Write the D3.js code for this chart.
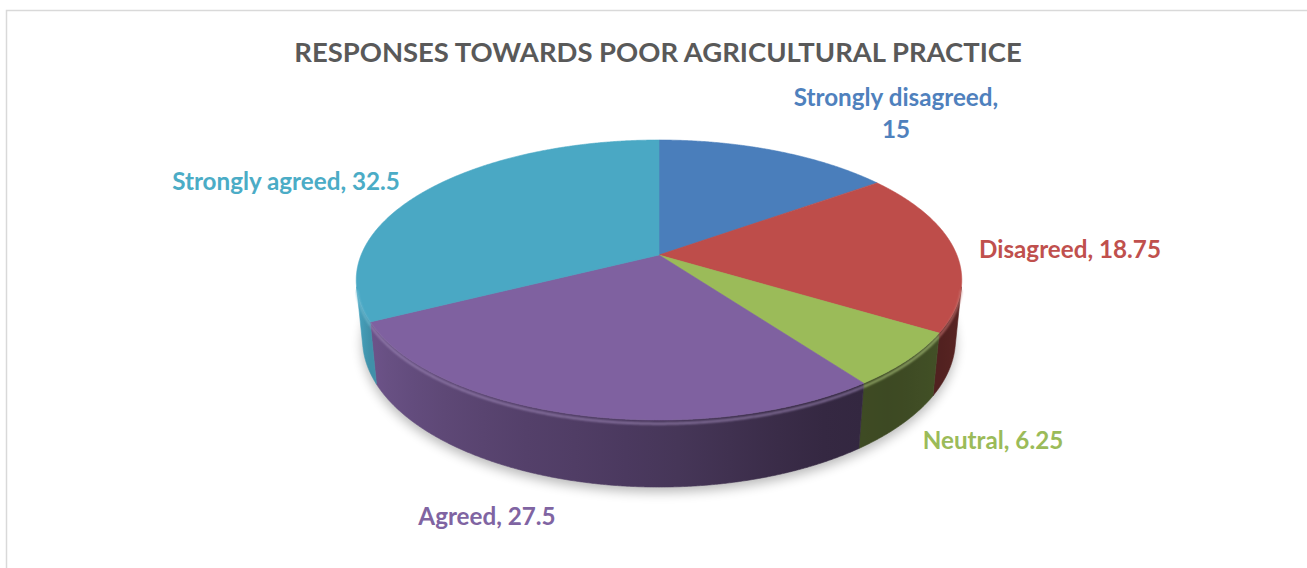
<!DOCTYPE html>
<html>
<head>
<meta charset="utf-8">
<script src="https://cdn.jsdelivr.net/npm/d3@7"></script>
<style>
  body { margin: 0; background: #fff; }
  text { font-family: Lato, "Open Sans", sans-serif; font-weight: bold; }
</style>
</head>
<body>
<svg id="chart" width="1307" height="568"></svg>
<script>
// data
let categories = ["Strongly disagreed", "Disagreed", "Neutral", "Agreed", "Strongly agreed"];
let values = [15, 18.75, 6.25, 27.5, 32.5];
let colors = ["#4a7ebb", "#be4d4a", "#9bbb59", "#7f61a0", "#4aa8c4"];
let labelColors = ["#4f81bd", "#c0504d", "#9bbb59", "#8064a2", "#4bacc6"];
let title = "RESPONSES TOWARDS POOR AGRICULTURAL PRACTICE";

// camera for the tilted disc
let cx = 659, cy = 255;
let tilt = Math.asin(0.455);
let S = Math.sin(tilt), C = Math.cos(tilt);
let d0 = 4.985, F = 1485, depth = 0.2256;
let visCos = -1 / (d0 * C);   // wall faces camera when cos(t) < visCos
let tv0 = Math.acos(visCos), tv1 = 2 * Math.PI - tv0;

let svg = d3.select("#chart");
let defs = svg.append("defs");

svg.append("rect")
  .attr("x", 6.5).attr("y", 10.5).attr("width", 1400).attr("height", 700)
  .attr("fill", "#fff").attr("stroke", "#d9d9d9").attr("stroke-width", 1.5);

function proj(t, y){
  let x = Math.sin(t), z = Math.cos(t);
  let D = d0 + z*C - y*S;
  return [cx + F*x/D, cy - F*(z*S + y*C)/D];
}

function arcPts(a0, a1, y){
  let n = Math.max(2, Math.ceil((a1 - a0) / (Math.PI/720)));
  let pts = [];
  for (let i = 0; i <= n; i++){ pts.push(proj(a0 + (a1 - a0)*i/n, y)); }
  return pts;
}

function shade(col, k){
  let c = d3.rgb(col);
  if (k <= 1) return d3.rgb(c.r*k, c.g*k, c.b*k).formatHex();
  let m = k - 1;
  return d3.rgb(c.r + (255-c.r)*m, c.g + (255-c.g)*m, c.b + (255-c.b)*m).formatHex();
}

// brightness of the side wall by angle (degrees clockwise from the back)
let wallFactor = d3.scaleLinear()
  .domain([100, 121, 138, 155, 180, 210, 243, 260].map(d=>d*Math.PI/180))
  .range([0.5, 0.43, 0.39, 0.42, 0.57, 0.7, 0.86, 1.06])
  .clamp(true);

let arcs = d3.pie().sort(null).value(d=>d)(values);
let line = d3.line();

// soft shadow under the disc
let blur = defs.append("filter").attr("id", "shadow")
  .attr("x", "-20%").attr("y", "-20%").attr("width", "140%").attr("height", "140%");
blur.append("feGaussianBlur").attr("stdDeviation", 6);

svg.append("path")
  .attr("d", line(arcPts(0, 2*Math.PI, -depth).map(p=>[p[0], p[1] + 5])) + "Z")
  .attr("fill", "#000").attr("opacity", 0.28)
  .attr("filter", "url(#shadow)");

// outer walls
let walls = arcs.map((a, i)=>{
  let lo = Math.max(a.startAngle, tv0), hi = Math.min(a.endAngle, tv1);
  return {i: i, lo: lo, hi: hi};
}).filter(w=>w.lo < w.hi);

walls.forEach(w=>{
  let xa = proj(w.lo, 0)[0], xb = proj(w.hi, 0)[0];
  let g = defs.append("linearGradient").attr("id", "wall" + w.i)
    .attr("gradientUnits", "userSpaceOnUse")
    .attr("x1", xa).attr("x2", xb).attr("y1", 0).attr("y2", 0);
  for (let k = 0; k <= 12; k++){
    let t = w.lo + (w.hi - w.lo)*k/12;
    let off = xa == xb ? 0 : (xa - proj(t, 0)[0]) / (xa - xb);
    g.append("stop").attr("offset", off).attr("stop-color", shade(colors[w.i], wallFactor(t)));
  }
});

svg.append("g").selectAll("path")
  .data(walls)
  .join("path")
  .attr("d", w=>line(arcPts(w.lo, w.hi, 0).concat(arcPts(w.lo, w.hi, -depth).reverse())) + "Z")
  .attr("fill", w=>"url(#wall" + w.i + ")")
  .attr("stroke", w=>"url(#wall" + w.i + ")")
  .attr("stroke-width", 0.6);

// top faces
svg.append("g").selectAll("path")
  .data(arcs)
  .join("path")
  .attr("d", a=>line([[cx, cy]].concat(arcPts(a.startAngle, a.endAngle, 0))) + "Z")
  .attr("fill", (a, i)=>colors[i])
  .attr("stroke", (a, i)=>colors[i])
  .attr("stroke-width", 0.6);

// bevel highlight along the front rim
let glow = defs.append("filter").attr("id", "soft");
glow.append("feGaussianBlur").attr("stdDeviation", 0.8);
svg.append("g").selectAll("path")
  .data(walls)
  .join("path")
  .attr("d", w=>line(arcPts(w.lo, w.hi, -0.012)))
  .attr("fill", "none")
  .attr("stroke", w=>shade(colors[w.i], 1.25))
  .attr("stroke-width", 2)
  .attr("opacity", 0.8)
  .attr("filter", "url(#soft)");

// title
let titleNode = svg.append("text")
  .attr("x", 658).attr("y", 62)
  .attr("text-anchor", "middle")
  .attr("fill", "#595959")
  .attr("font-size", 20)
  .text(title);
let tw = titleNode.node().getComputedTextLength();
titleNode.attr("font-size", 20 * 728 / tw);

// data label anchors: centre x, first baseline, width of the longest line
let labelPos = [
  {x: 896, y: 106, w: 212},
  {x: 1070, y: 258, w: 182},
  {x: 993, y: 449, w: 143},
  {x: 487, y: 525, w: 127},
  {x: 286, y: 190, w: 233}
];
let labelLines = categories.map((c, i)=> i == 0 ? [c + ",", String(values[i])] : [c + ", " + values[i]]);

let ratios = [];
let labels = svg.append("g").selectAll("text")
  .data(labelLines)
  .join("text")
  .attr("text-anchor", "middle")
  .attr("font-size", 20)
  .attr("fill", (d, i)=>labelColors[i]);
labels.each(function(d, i){
  let t = d3.select(this);
  d.forEach((s, j)=>{
    t.append("tspan").attr("x", labelPos[i].x).attr("y", labelPos[i].y + j*32).text(s);
  });
  let w = d3.max(t.selectAll("tspan").nodes(), n=>n.getComputedTextLength());
  ratios.push(labelPos[i].w / w);
});
labels.attr("font-size", 20 * d3.mean(ratios));
</script>
</body>
</html>
